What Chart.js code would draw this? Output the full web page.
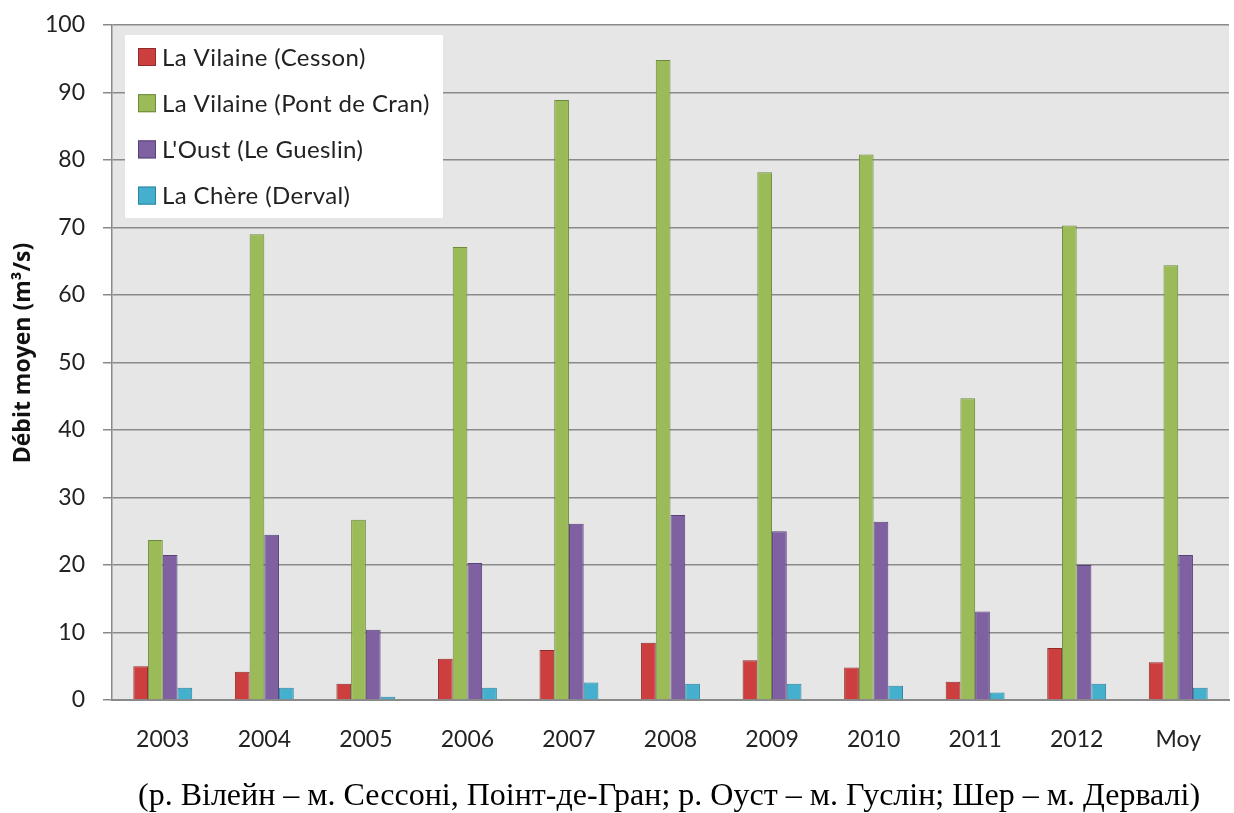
<!DOCTYPE html>
<html>
<head>
<meta charset="utf-8">
<script src="https://cdn.jsdelivr.net/npm/chart.js@4.4.1/dist/chart.umd.min.js"></script>
<style>
  html, body { margin: 0; padding: 0; background: #ffffff; }
  #wrap { position: relative; width: 1234px; height: 813px; overflow: hidden; }
  #caption {
    position: absolute; left: 138px; top: 778px; white-space: nowrap;
    font-family: "Liberation Serif", "DejaVu Serif", serif;
    font-size: 32px; line-height: 32px; color: #000;
  }
</style>
</head>
<body>
<div id="wrap">
  <canvas id="c" width="1234" height="813"></canvas>
  <div id="caption">(р. Вілейн – м. Сессоні, Поінт-де-Гран; р. Оуст – м. Гуслін; Шер – м. Дервалі)</div>
</div>
<script>
// Mean annual discharge (m³/s) per gauging station
const categories = ['2003', '2004', '2005', '2006', '2007', '2008', '2009', '2010', '2011', '2012', 'Moy'];
const seriesNames = ['La Vilaine (Cesson)', 'La Vilaine (Pont de Cran)', "L'Oust (Le Gueslin)", 'La Chère (Derval)'];
const vilaineCesson   = [5.0, 4.2, 2.4, 6.1, 7.4, 8.5, 5.9, 4.8, 2.7, 7.7, 5.6];
const vilainePontCran = [23.7, 69.0, 26.7, 67.1, 88.9, 94.8, 78.2, 80.8, 44.7, 70.3, 64.4];
const oustGueslin     = [21.5, 24.5, 10.4, 20.3, 26.1, 27.4, 25.0, 26.4, 13.1, 20.0, 21.5];
const chereDerval     = [1.8, 1.8, 0.5, 1.8, 2.6, 2.4, 2.4, 2.1, 1.1, 2.4, 1.8];
const yTicks = [0, 10, 20, 30, 40, 50, 60, 70, 80, 90, 100];
const yTitle = 'Débit moyen (m³/s)';

const fills   = ['#CD3E3E', '#9BBB59', '#7F61A1', '#45B0CE'];
const borders = ['#8E2C2B', '#6C8A3B', '#57427A', '#2D84A0'];
const seriesValues = [vilaineCesson, vilainePontCran, oustGueslin, chereDerval];

const plotBackground = {
  id: 'plotBackground',
  beforeDraw(chart) {
    const { ctx, chartArea: a } = chart;
    ctx.save();
    ctx.fillStyle = '#E6E6E6';
    ctx.fillRect(a.left, a.top, a.right - a.left, a.bottom - a.top);
    ctx.restore();
  }
};

// Rotated value-axis title
const axisTitle = {
  id: 'axisTitle',
  afterDraw(chart) {
    const { ctx } = chart;
    ctx.save();
    ctx.translate(23, 353);
    ctx.rotate(-Math.PI / 2);
    ctx.font = 'bold 23px "Open Sans", Lato, sans-serif';
    ctx.fillStyle = '#111111';
    ctx.textAlign = 'center';
    ctx.textBaseline = 'middle';
    ctx.fillText(yTitle, 0, 0);
    ctx.restore();
  }
};

// Legend boxed inside the top-left corner of the plot
const insetLegend = {
  id: 'insetLegend',
  afterDatasetsDraw(chart) {
    const { ctx, chartArea: a } = chart;
    const x0 = a.left + 13, y0 = a.top + 10, w = 318, h = 183;
    ctx.save();
    ctx.fillStyle = '#ffffff';
    ctx.fillRect(x0, y0, w, h);
    ctx.font = '24px Lato, "Open Sans", sans-serif';
    if ('letterSpacing' in ctx) ctx.letterSpacing = '0.4px';
    ctx.textBaseline = 'middle';
    chart.data.datasets.forEach((ds, i) => {
      const cy = y0 + 22 + i * 46.2;
      ctx.fillStyle = ds.backgroundColor;
      ctx.fillRect(x0 + 13, cy - 9, 18, 18);
      ctx.strokeStyle = ds.borderColor;
      ctx.lineWidth = 1;
      ctx.strokeRect(x0 + 13.5, cy - 8.5, 17, 17);
      ctx.fillStyle = '#222222';
      ctx.fillText(ds.label, x0 + 37, cy + 1);
    });
    ctx.restore();
  }
};

new Chart(document.getElementById('c'), {
  type: 'bar',
  data: {
    labels: categories,
    datasets: seriesNames.map((name, i) => ({
      label: name,
      data: seriesValues[i],
      backgroundColor: fills[i],
      borderColor: borders[i],
      borderWidth: 1,
      categoryPercentage: 0.58,
      barPercentage: 1.0
    }))
  },
  options: {
    responsive: false,
    animation: false,
    layout: { padding: { top: 25, right: 5, bottom: 0, left: 0 } },
    plugins: {
      legend: { display: false },
      tooltip: { enabled: false }
    },
    scales: {
      x: {
        grid: { display: false, drawTicks: false },
        border: { display: true, color: '#8a8a8a', width: 2 },
        ticks: {
          padding: 26,
          color: '#222222',
          font: { family: 'Lato, "Open Sans", sans-serif', size: 23 }
        },
        afterFit(scale) { scale.height = 113; }
      },
      y: {
        min: 0,
        max: 100,
        afterBuildTicks(scale) { scale.ticks = yTicks.map(v => ({ value: v })); },
        grid: { color: '#8a8a8a', lineWidth: 1.5, tickLength: 9 },
        border: { display: true, color: '#8a8a8a', width: 1.5 },
        ticks: {
          padding: 18,
          color: '#222222',
          font: { family: 'Lato, "Open Sans", sans-serif', size: 23 }
        },
        afterFit(scale) {
          scale.width = 112;
          scale.paddingTop = 0;
          scale.paddingBottom = 0;
        }
      }
    }
  },
  plugins: [plotBackground, insetLegend, axisTitle]
});
</script>
</body>
</html>
